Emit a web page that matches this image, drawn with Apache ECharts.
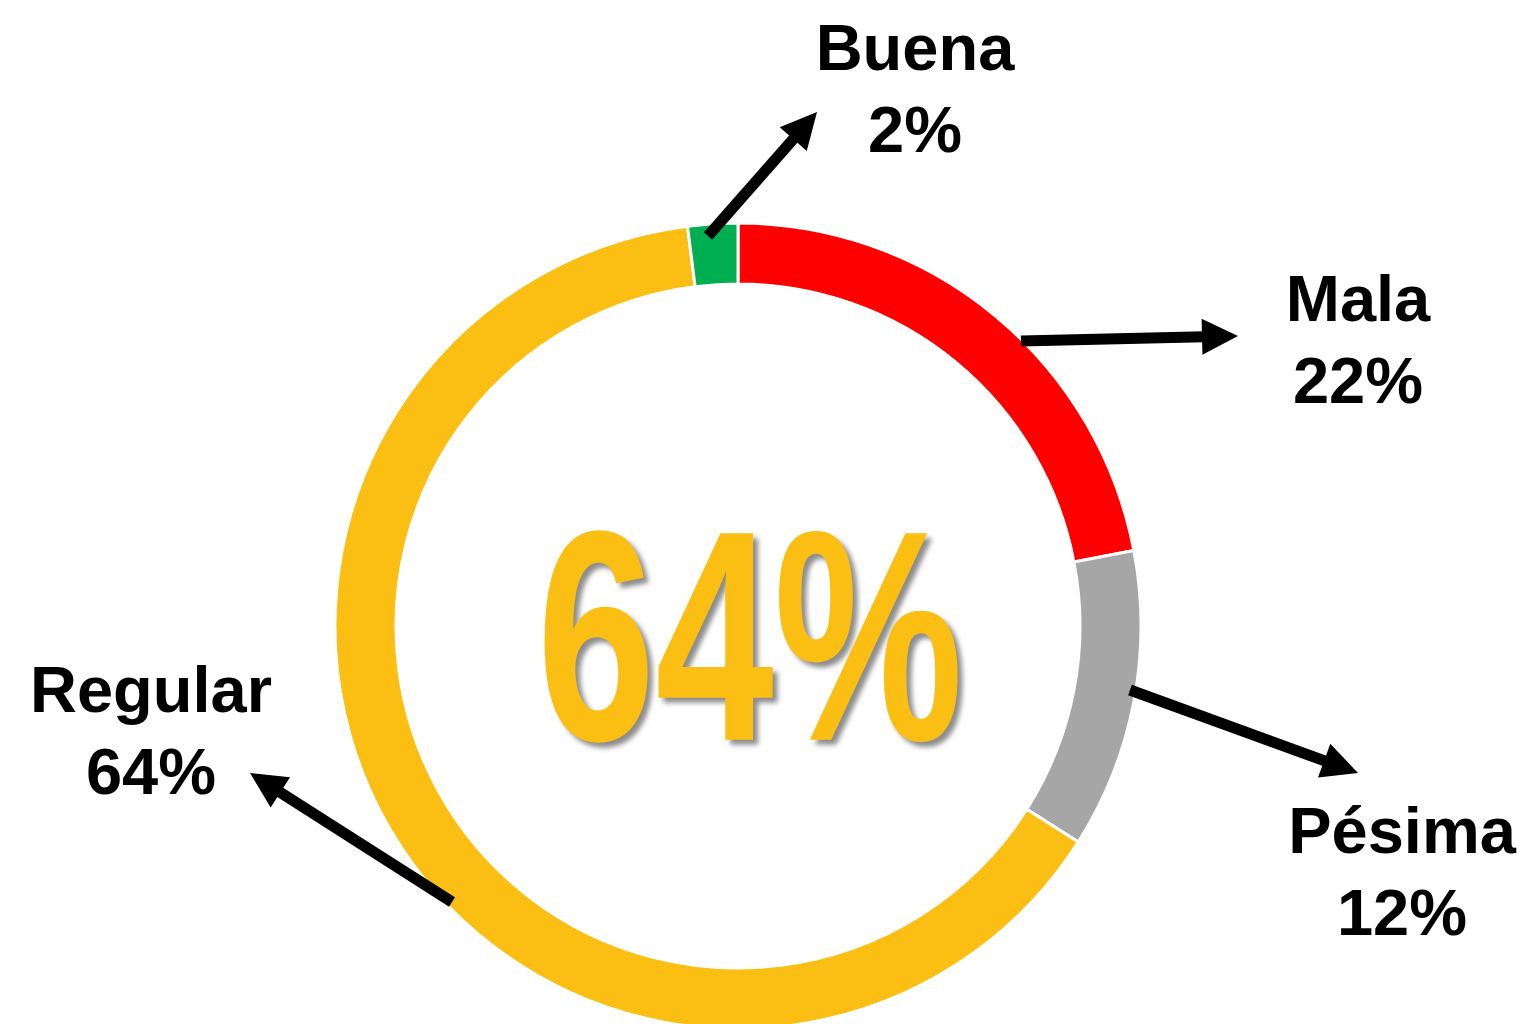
<!DOCTYPE html>
<html>
<head>
<meta charset="utf-8">
<script src="https://cdn.jsdelivr.net/npm/echarts@6/dist/echarts.min.js"></script>
<style>
  html, body { margin: 0; padding: 0; background: #fff; }
  #chart-container { width: 1532px; height: 1024px; }
</style>
</head>
<body>
<div id="chart-container"></div>
<script>
// data (clockwise from 12 o'clock)
const categories = ['Mala', 'Pésima', 'Regular', 'Buena'];
const shares = [22, 12, 64, 2];
const sliceColors = ['#FF0000', '#A6A6A6', '#FBBF13', '#00B050'];

// layout of the labels and arrows (pixels)
const labelPos = [[1358, 344], [1402, 876], [151, 735], [915, 93]];
const arrows = [
  [1021, 341, 1238, 336],
  [1130, 690, 1358, 773],
  [452, 902, 250, 773],
  [708, 236, 817, 112]
];

let dom = document.getElementById('chart-container');
let myChart = echarts.init(dom, null, { renderer: 'canvas' });

function arrow(x1, y1, x2, y2) {
  const dx = x2 - x1, dy = y2 - y1;
  const len = Math.sqrt(dx * dx + dy * dy);
  const ux = dx / len, uy = dy / len;
  const head = 36, half = 18;
  const bx = x2 - ux * head, by = y2 - uy * head;
  return [
    {
      type: 'line',
      z: 100,
      zlevel: 1,
      shape: { x1: x1, y1: y1, x2: bx + ux * 2, y2: by + uy * 2 },
      style: { stroke: '#000', lineWidth: 11 }
    },
    {
      type: 'polygon',
      z: 100,
      zlevel: 1,
      shape: { points: [[x2, y2], [bx - uy * half, by + ux * half], [bx + uy * half, by - ux * half]] },
      style: { fill: '#000' }
    }
  ];
}

const biggest = Math.max.apply(null, shares);

let graphics = [];
arrows.forEach(function (a) {
  graphics = graphics.concat(arrow(a[0], a[1], a[2], a[3]));
});
graphics.push({
  type: 'text',
  x: 750,
  y: 657,
  scaleX: 0.71,
  z: 5,
  style: {
    text: biggest + '%',
    x: 0,
    y: 0,
    align: 'center',
    verticalAlign: 'middle',
    fill: '#FBBF13',
    font: 'bold 300px "Liberation Sans", Arial, sans-serif',
    shadowColor: 'rgba(0,0,0,0.45)',
    shadowBlur: 5,
    shadowOffsetX: 5,
    shadowOffsetY: 5,
    textShadowColor: 'rgba(0,0,0,0.45)',
    textShadowBlur: 5,
    textShadowOffsetX: 5,
    textShadowOffsetY: 5
  }
});

let option = {
  backgroundColor: '#fff',
  animation: false,
  series: [
    {
      type: 'pie',
      center: [738, 626],
      radius: [342, 403],
      startAngle: 90,
      clockwise: true,
      avoidLabelOverlap: false,
      itemStyle: { borderColor: '#fff', borderWidth: 3 },
      label: {
        show: true,
        position: 'outside',
        formatter: '{b}\n{d}%',
        color: '#000',
        fontFamily: 'Liberation Sans, Arial, sans-serif',
        fontWeight: 'bold',
        fontSize: 65,
        lineHeight: 82,
        align: 'center'
      },
      labelLine: { show: false },
      labelLayout: function (params) {
        const p = labelPos[params.dataIndex];
        return { x: p[0], y: p[1], align: 'center', verticalAlign: 'middle' };
      },
      emphasis: { disabled: true },
      data: categories.map(function (c, i) {
        return { name: c, value: shares[i], itemStyle: { color: sliceColors[i] } };
      })
    }
  ],
  graphic: graphics
};

myChart.setOption(option);
window.addEventListener('resize', myChart.resize);
</script>
</body>
</html>
